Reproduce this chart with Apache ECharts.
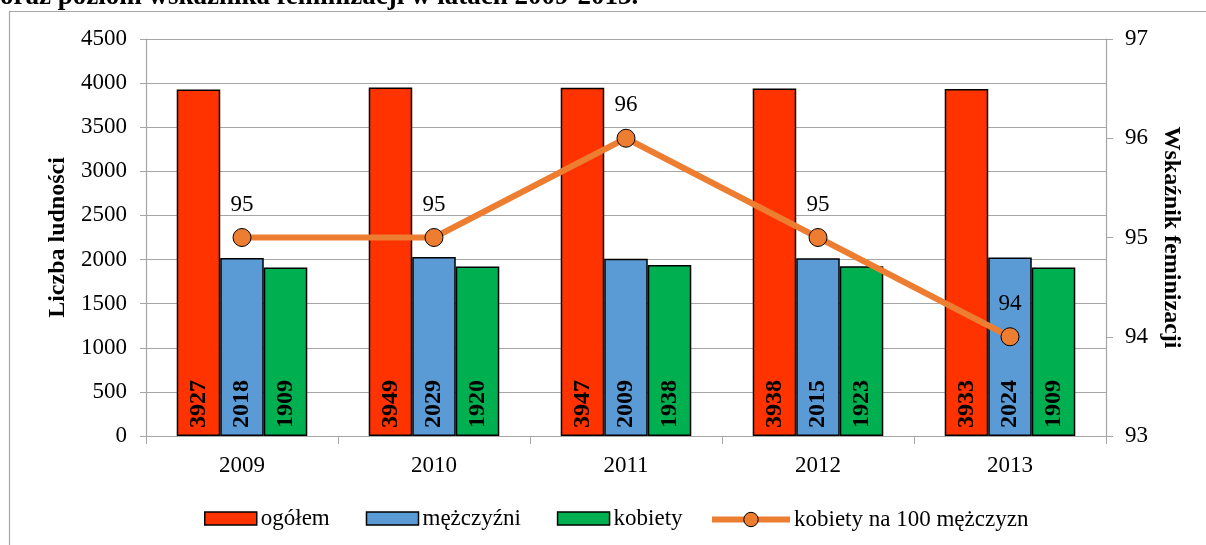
<!DOCTYPE html>
<html>
<head>
<meta charset="utf-8">
<script src="https://cdn.jsdelivr.net/npm/echarts@6/dist/echarts.min.js"></script>
<style>
  html, body { margin: 0; padding: 0; background: #fff; }
  #chart { width: 1206px; height: 545px; }
</style>
</head>
<body>
<div id="chart"></div>
<script>
// dane z wykresu
const years = ["2009", "2010", "2011", "2012", "2013"];
const ogolem = [3927, 3949, 3947, 3938, 3933];
const mezczyzni = [2018, 2029, 2009, 2015, 2024];
const kobiety = [1909, 1920, 1938, 1923, 1909];
const wskaznik = [95, 95, 96, 95, 94];

const serif = "Liberation Serif";
const gridColor = "#a6a6a6";

const barLabel = {
  show: true,
  position: "insideBottom",
  rotate: 90,
  align: "left",
  verticalAlign: "middle",
  distance: 8,
  fontFamily: serif,
  fontWeight: "bold",
  fontSize: 24,
  color: "#000"
};

const barStyle = color => ({ color: color, borderColor: "#000", borderWidth: 1.5 });
const axisName = { fontFamily: serif, fontWeight: "bold", fontSize: 24, color: "#000" };
const tickText = { fontFamily: serif, fontSize: 23, color: "#000" };
const legendText = { fontFamily: serif, fontSize: 23, color: "#000", padding: [4, 0, 0, -1] };

const chart = echarts.init(document.getElementById("chart"));
chart.setOption({
  animation: false,
  textStyle: { fontFamily: serif },
  graphic: [
    {
      type: "rect",
      shape: { x: 9.5, y: 11.5, width: 1300, height: 600 },
      style: { fill: "none", stroke: gridColor, lineWidth: 1.2 },
      silent: true
    },
    {
      type: "text",
      x: 0,
      y: -3,
      style: {
        text: "oraz poziom wskaźnika feminizacji w latach 2009-2013.",
        font: "bold 27px 'Liberation Serif'",
        fill: "#000",
        verticalAlign: "middle"
      }
    }
  ],
  grid: { left: 146, right: 100, top: 39, bottom: 109, containLabel: false },
  legend: [
    {
      left: 199,
      bottom: 10,
      itemGap: 36,
      itemWidth: 52,
      itemHeight: 13,
      icon: "rect",
      textStyle: legendText,
      data: [
        { name: "ogółem", itemStyle: barStyle("#FF3300") },
        { name: "mężczyźni", itemStyle: barStyle("#5B9BD5") },
        { name: "kobiety", itemStyle: barStyle("#00B050") }
      ]
    },
    {
      left: 704,
      bottom: 9,
      itemWidth: 78,
      itemHeight: 18,
      textStyle: legendText,
      data: [
        {
          name: "kobiety na 100 mężczyzn",
          lineStyle: { color: "#ED7D31", width: 6 },
          itemStyle: { color: "#ED7D31", borderColor: "#000", borderWidth: 1 }
        }
      ]
    }
  ],
  xAxis: {
    type: "category",
    data: years,
    axisLine: { lineStyle: { color: gridColor, width: 1.2 } },
    axisTick: { show: true, length: 8, lineStyle: { color: gridColor } },
    axisLabel: Object.assign({ margin: 18 }, tickText)
  },
  yAxis: [
    {
      type: "value",
      min: 0,
      max: 4500,
      interval: 500,
      name: "Liczba ludności",
      nameLocation: "middle",
      nameGap: 73,
      nameTextStyle: axisName,
      axisLine: { show: true, lineStyle: { color: gridColor, width: 1.2 } },
      axisTick: { show: true, length: 6, lineStyle: { color: gridColor } },
      axisLabel: Object.assign({ margin: 19, formatter: v => String(v) }, tickText),
      splitLine: { lineStyle: { color: gridColor, width: 1.2 } }
    },
    {
      type: "value",
      min: 93,
      max: 97,
      interval: 1,
      name: "Wskaźnik feminizacji",
      nameLocation: "middle",
      nameGap: 32,
      nameRotate: -90,
      nameTextStyle: axisName,
      axisLine: { show: true, lineStyle: { color: gridColor, width: 1.2 } },
      axisTick: { show: true, length: 7, lineStyle: { color: gridColor } },
      axisLabel: Object.assign({ margin: 19 }, tickText),
      splitLine: { show: false }
    }
  ],
  series: [
    {
      name: "ogółem",
      type: "bar",
      data: ogolem,
      barGap: "0%",
      barCategoryGap: "32%",
      itemStyle: barStyle("#FF3300"),
      label: barLabel
    },
    {
      name: "mężczyźni",
      type: "bar",
      data: mezczyzni,
      itemStyle: barStyle("#5B9BD5"),
      label: barLabel
    },
    {
      name: "kobiety",
      type: "bar",
      data: kobiety,
      itemStyle: barStyle("#00B050"),
      label: barLabel
    },
    {
      name: "kobiety na 100 mężczyzn",
      type: "line",
      yAxisIndex: 1,
      data: wskaznik,
      symbol: "circle",
      symbolSize: 18,
      z: 5,
      lineStyle: { color: "#ED7D31", width: 6 },
      itemStyle: { color: "#ED7D31", borderColor: "#000", borderWidth: 1 },
      label: {
        show: true,
        position: "top",
        distance: 12,
        fontFamily: serif,
        fontSize: 23,
        color: "#000"
      }
    }
  ]
});
</script>
</body>
</html>
